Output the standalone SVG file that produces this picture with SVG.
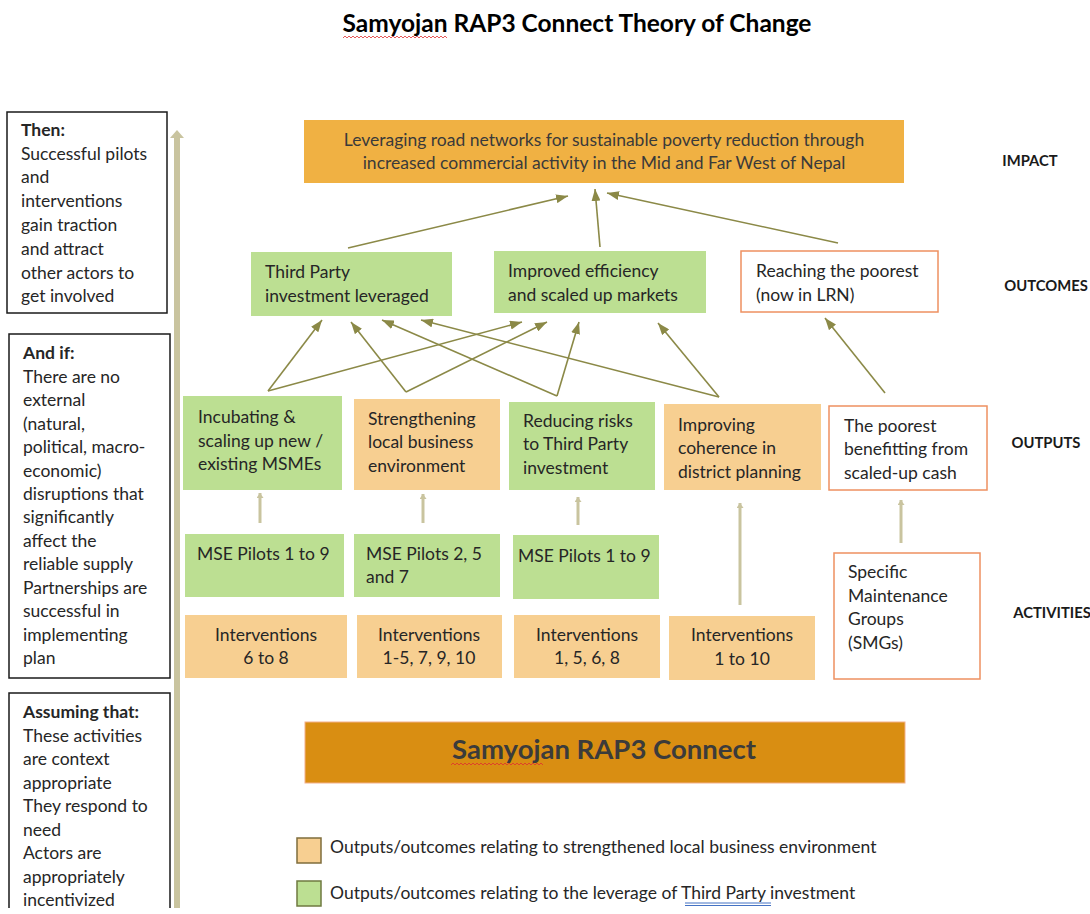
<svg xmlns="http://www.w3.org/2000/svg" width="1090" height="914" viewBox="0 0 1090 914">
<style>
text{font-family:Lato,"Open Sans","Liberation Sans",sans-serif;font-size:17.5px;fill:#262626}
.b{font-weight:bold}
.lbl{font-weight:bold;font-size:14.8px;fill:#1a1a1a}
.g{fill:#bcdf92}
.o{fill:#f7cf91}
.w{fill:#ffffff;stroke:#ee9060;stroke-width:1.5}
.lb{fill:#ffffff;stroke:#1a1a1a;stroke-width:1.5}
.c{text-anchor:middle}
.ol{stroke:#8b8947;stroke-width:1.6;fill:none;marker-end:url(#ah)}
.tn{stroke:#c9c49f;stroke-width:3;fill:none;marker-end:url(#th)}
</style>
<defs>
<marker id="ah" viewBox="0 0 10 10" refX="10" refY="5" markerWidth="12" markerHeight="9" markerUnits="userSpaceOnUse" orient="auto" preserveAspectRatio="none"><path d="M0,0 L10,5 L0,10 z" fill="#8b8947"/></marker>
<marker id="th" viewBox="0 0 10 10" refX="10" refY="5" markerWidth="5" markerHeight="7" markerUnits="userSpaceOnUse" orient="auto" preserveAspectRatio="none"><path d="M0,0 L10,5 L0,10 z" fill="#c9c49f"/></marker>
</defs>
<rect width="1090" height="914" fill="#ffffff"/>

<g id="title">
<text x="577" y="32" class="b c" style="font-size:24.5px;fill:#000">Samyojan RAP3 Connect Theory of Change</text>
<path d="M343,38 l2,-2 l2,2 l2,-2 l2,2 l2,-2 l2,2 l2,-2 l2,2 l2,-2 l2,2 l2,-2 l2,2 l2,-2 l2,2 l2,-2 l2,2 l2,-2 l2,2 l2,-2 l2,2 l2,-2 l2,2 l2,-2 l2,2 l2,-2 l2,2 l2,-2 l2,2 l2,-2 l2,2 l2,-2 l2,2 l2,-2 l2,2 l2,-2 l2,2 l2,-2 l2,2 l2,-2 l2,2 l2,-2 l2,2 l2,-2 l2,2 l2,-2 l2,2 l2,-2 l2,2 l2,-2 l2,2 l2,-2 l2,2" stroke="#e03030" stroke-width="0.8" fill="none"/>
</g>

<g id="left-arrow">
<line x1="177" y1="908" x2="177" y2="137" stroke="#c9c49f" stroke-width="6"/>
<polygon points="170,138 177,130 184,138" fill="#c9c49f"/>
</g>

<g id="then">
<rect x="7" y="112" width="160" height="201" class="lb"/>
<text x="21" y="136" class="b">Then:</text>
<text x="21" y="160">Successful pilots</text>
<text x="21" y="183">and</text>
<text x="21" y="207">interventions</text>
<text x="21" y="231">gain traction</text>
<text x="21" y="255">and attract</text>
<text x="21" y="279">other actors to</text>
<text x="21" y="302">get involved</text>
</g>

<g id="andif">
<rect x="9" y="334" width="161" height="344" class="lb"/>
<text x="23" y="359" class="b">And if:</text>
<text x="23" y="383">There are no</text>
<text x="23" y="406">external</text>
<text x="23" y="430">(natural,</text>
<text x="23" y="453">political, macro-</text>
<text x="23" y="477">economic)</text>
<text x="23" y="500">disruptions that</text>
<text x="23" y="523">significantly</text>
<text x="23" y="547">affect the</text>
<text x="23" y="570">reliable supply</text>
<text x="23" y="594">Partnerships are</text>
<text x="23" y="617">successful in</text>
<text x="23" y="641">implementing</text>
<text x="23" y="664">plan</text>
</g>

<g id="assuming">
<path d="M9,908 V693 H170 V908" class="lb" fill="#fff"/>
<text x="23" y="718" class="b">Assuming that:</text>
<text x="23" y="742">These activities</text>
<text x="23" y="765">are context</text>
<text x="23" y="789">appropriate</text>
<text x="23" y="812">They respond to</text>
<text x="23" y="836">need</text>
<text x="23" y="859">Actors are</text>
<text x="23" y="883">appropriately</text>
<text x="23" y="906">incentivized</text>
</g>

<g id="impact">
<rect x="304" y="120" width="600" height="63" fill="#f0b143"/>
<text x="604" y="146" class="c" style="fill:#3a3a3a">Leveraging road networks for sustainable poverty reduction through</text>
<text x="604" y="169" class="c" style="fill:#3a3a3a">increased commercial activity in the Mid and Far West of Nepal</text>
</g>

<g id="labels">
<text x="1030" y="166" class="lbl c">IMPACT</text>
<text x="1046" y="291" class="lbl c">OUTCOMES</text>
<text x="1046" y="448" class="lbl c">OUTPUTS</text>
<text x="1052" y="618" class="lbl c">ACTIVITIES</text>
</g>

<g id="outcome-third-party">
<rect x="251" y="252" width="201" height="64" class="g"/>
<text x="265" y="278">Third Party</text>
<text x="265" y="302">investment leveraged</text>
</g>
<g id="outcome-efficiency">
<rect x="494" y="251" width="212" height="62" class="g"/>
<text x="508" y="277">Improved efficiency</text>
<text x="508" y="301">and scaled up markets</text>
</g>
<g id="outcome-poorest">
<rect x="741" y="251" width="197" height="61" class="w"/>
<text x="756" y="277">Reaching the poorest</text>
<text x="756" y="301">(now in LRN)</text>
</g>

<g id="output-incubating">
<rect x="183" y="396" width="159" height="94" class="g"/>
<text x="198" y="423">Incubating &amp;</text>
<text x="198" y="447">scaling up new /</text>
<text x="198" y="470">existing MSMEs</text>
</g>
<g id="output-strengthening">
<rect x="354" y="399" width="146" height="91" class="o"/>
<text x="368" y="425">Strengthening</text>
<text x="368" y="448">local business</text>
<text x="368" y="472">environment</text>
</g>
<g id="output-reducing">
<rect x="509" y="402" width="146" height="88" class="g"/>
<text x="523" y="427">Reducing risks</text>
<text x="523" y="450">to Third Party</text>
<text x="523" y="474">investment</text>
</g>
<g id="output-coherence">
<rect x="664" y="404" width="157" height="86" class="o"/>
<text x="678" y="431">Improving</text>
<text x="678" y="454">coherence in</text>
<text x="678" y="478">district planning</text>
</g>
<g id="output-poorest">
<rect x="829" y="406" width="158" height="84" class="w"/>
<text x="844" y="432">The poorest</text>
<text x="844" y="455">benefitting from</text>
<text x="844" y="479">scaled-up cash</text>
</g>

<g id="pilots-1">
<rect x="185" y="534" width="159" height="63" class="g"/>
<text x="197" y="560">MSE Pilots 1 to 9</text>
</g>
<g id="pilots-2">
<rect x="354" y="534" width="146" height="63" class="g"/>
<text x="366" y="560">MSE Pilots 2, 5</text>
<text x="366" y="583">and 7</text>
</g>
<g id="pilots-3">
<rect x="513" y="535" width="146" height="64" class="g"/>
<text x="518" y="562">MSE Pilots 1 to 9</text>
</g>

<g id="interventions-1">
<rect x="185" y="615" width="162" height="63" class="o"/>
<text x="266" y="641" class="c">Interventions</text>
<text x="266" y="664" class="c">6 to 8</text>
</g>
<g id="interventions-2">
<rect x="357" y="615" width="145" height="63" class="o"/>
<text x="429" y="641" class="c">Interventions</text>
<text x="429" y="664" class="c">1-5, 7, 9, 10</text>
</g>
<g id="interventions-3">
<rect x="514" y="615" width="146" height="63" class="o"/>
<text x="587" y="641" class="c">Interventions</text>
<text x="587" y="664" class="c">1, 5, 6, 8</text>
</g>
<g id="interventions-4">
<rect x="669" y="616" width="146" height="64" class="o"/>
<text x="742" y="641" class="c">Interventions</text>
<text x="742" y="665" class="c">1 to 10</text>
</g>
<g id="smg">
<rect x="834" y="553" width="146" height="126" class="w"/>
<text x="848" y="578">Specific</text>
<text x="848" y="602">Maintenance</text>
<text x="848" y="625">Groups</text>
<text x="848" y="649">(SMGs)</text>
</g>

<g id="programme">
<rect x="305" y="722" width="600" height="61" fill="#d98e12" stroke="#f3b08a" stroke-width="1"/>
<text x="604" y="759" class="b c" style="font-size:27.5px;fill:#3b3b3b">Samyojan RAP3 Connect</text>
<path d="M451,765 l2,-2 l2,2 l2,-2 l2,2 l2,-2 l2,2 l2,-2 l2,2 l2,-2 l2,2 l2,-2 l2,2 l2,-2 l2,2 l2,-2 l2,2 l2,-2 l2,2 l2,-2 l2,2 l2,-2 l2,2 l2,-2 l2,2 l2,-2 l2,2 l2,-2 l2,2 l2,-2 l2,2 l2,-2 l2,2 l2,-2 l2,2 l2,-2 l2,2 l2,-2 l2,2 l2,-2 l2,2 l2,-2 l2,2 l2,-2 l2,2 l2,-2 l2,2" stroke="#e03030" stroke-width="0.8" fill="none"/>
</g>

<g id="legend">
<rect x="297" y="838" width="24" height="25" fill="#f7cf91" stroke="#7f6d3c" stroke-width="1.5"/>
<text x="330" y="853">Outputs/outcomes relating to strengthened local business environment</text>
<rect x="297" y="881" width="24" height="25" fill="#bcdf92" stroke="#6f7a40" stroke-width="1.5"/>
<text x="330" y="899">Outputs/outcomes relating to the leverage of <tspan>Third Party</tspan> investment</text>
<line x1="685" y1="903" x2="771" y2="903" stroke="#4472c4" stroke-width="1"/>
<line x1="685" y1="905.5" x2="771" y2="905.5" stroke="#4472c4" stroke-width="1"/>
</g>

<g id="connectors">
<line x1="348" y1="248" x2="568" y2="196" class="ol"/>
<line x1="600" y1="247" x2="595" y2="189" class="ol"/>
<line x1="838" y1="243" x2="607" y2="193" class="ol"/>

<line x1="268" y1="391" x2="322" y2="320" class="ol"/>
<line x1="268" y1="391" x2="522" y2="322" class="ol"/>
<line x1="406" y1="392" x2="351" y2="322" class="ol"/>
<line x1="406" y1="392" x2="547" y2="322" class="ol"/>
<line x1="557" y1="396" x2="382" y2="320" class="ol"/>
<line x1="557" y1="396" x2="579" y2="322" class="ol"/>
<line x1="719" y1="397" x2="421" y2="320" class="ol"/>
<line x1="719" y1="397" x2="658" y2="323" class="ol"/>
<line x1="885" y1="393" x2="825" y2="318" class="ol"/>

<line x1="260" y1="523" x2="260" y2="493" class="tn"/>
<line x1="423" y1="523" x2="423" y2="494" class="tn"/>
<line x1="578" y1="525" x2="578" y2="497" class="tn"/>
<line x1="740" y1="605" x2="740" y2="503" class="tn"/>
<line x1="901" y1="543" x2="901" y2="500" class="tn"/>
</g>
</svg>
